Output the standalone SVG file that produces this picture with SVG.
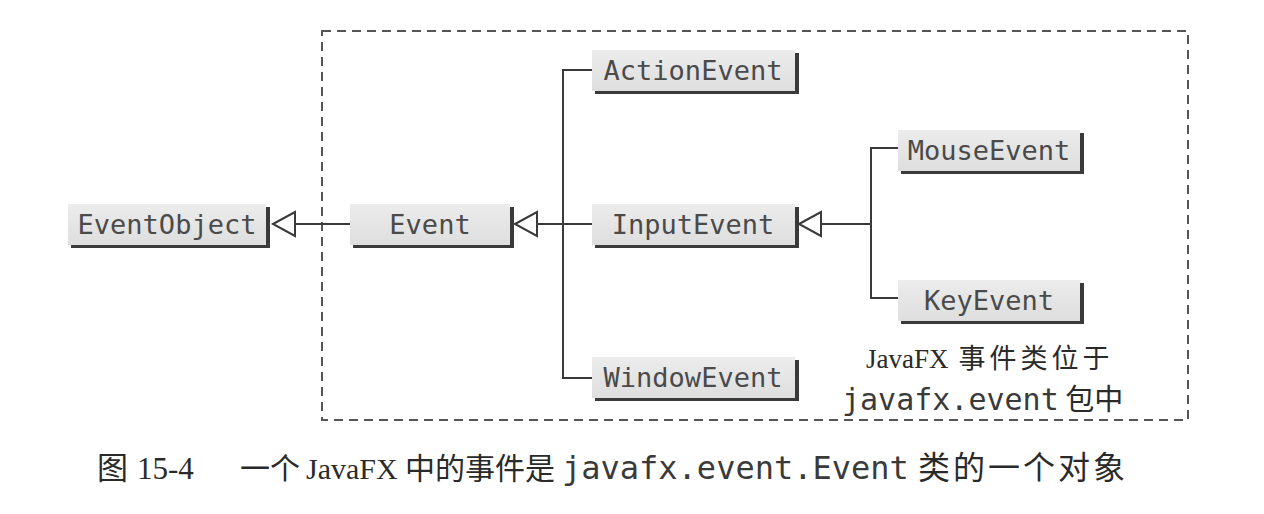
<svg xmlns="http://www.w3.org/2000/svg" width="1264" height="514" viewBox="0 0 1264 514">
<defs>
<linearGradient id="boxfill" x1="0" y1="0" x2="0" y2="1">
<stop offset="0" stop-color="#ececec"/>
<stop offset="1" stop-color="#dedede"/>
</linearGradient>
</defs>
<style>
.box{fill:url(#boxfill);}
.shadow{fill:#3a3a3a;}
.lbl{font-family:"DejaVu Sans Mono","Liberation Mono",monospace;font-size:27px;fill:#4a4a4a;text-anchor:middle;}
.ln{stroke:#3a3a3a;stroke-width:2;fill:none;}
.tri{stroke:#3a3a3a;stroke-width:2;fill:#ffffff;}
.dash{stroke:#555;stroke-width:2;fill:none;stroke-dasharray:9 6;}
.serif{font-family:"Liberation Serif","DejaVu Serif",serif;}
.cjk{font-family:"Noto Sans CJK SC",sans-serif;}
.mono{font-family:"DejaVu Sans Mono","Liberation Mono",monospace;}
</style>
<rect width="1264" height="514" fill="#ffffff"/>
<rect class="dash" x="322" y="31" width="866" height="389"/>
<g id="connectors">
<line class="ln" x1="295" y1="224" x2="350" y2="224"/>
<polygon class="tri" points="273,224 295,212 295,236"/>
<line class="ln" x1="537" y1="224" x2="592" y2="224"/>
<polygon class="tri" points="515,224 537,212 537,236"/>
<polyline class="ln" points="592,70 563,70 563,378 592,378"/>
<line class="ln" x1="821" y1="224" x2="871" y2="224"/>
<polygon class="tri" points="799,224 821,212 821,236"/>
<polyline class="ln" points="898,148 871,148 871,298 898,298"/>
</g>
<g id="EventObject">
<rect class="shadow" x="71" y="207" width="199" height="41"/>
<rect class="box" x="68" y="204" width="198" height="41"/>
<text class="lbl" x="167" y="234">EventObject</text>
</g>
<g id="Event">
<rect class="shadow" x="353" y="207" width="161" height="41"/>
<rect class="box" x="350" y="204" width="160" height="41"/>
<text class="lbl" x="430" y="234">Event</text>
</g>
<g id="ActionEvent">
<rect class="shadow" x="595" y="53" width="204" height="41"/>
<rect class="box" x="592" y="50" width="203" height="41"/>
<text class="lbl" x="693" y="80">ActionEvent</text>
</g>
<g id="InputEvent">
<rect class="shadow" x="595" y="207" width="204" height="41"/>
<rect class="box" x="592" y="204" width="203" height="41"/>
<text class="lbl" x="693" y="234">InputEvent</text>
</g>
<g id="WindowEvent">
<rect class="shadow" x="595" y="360" width="204" height="41"/>
<rect class="box" x="592" y="357" width="203" height="41"/>
<text class="lbl" x="693" y="387">WindowEvent</text>
</g>
<g id="MouseEvent">
<rect class="shadow" x="901" y="133" width="183" height="41"/>
<rect class="box" x="898" y="130" width="182" height="41"/>
<text class="lbl" x="989" y="160">MouseEvent</text>
</g>
<g id="KeyEvent">
<rect class="shadow" x="901" y="283" width="183" height="41"/>
<rect class="box" x="898" y="280" width="182" height="41"/>
<text class="lbl" x="989" y="310">KeyEvent</text>
</g>
<g id="note" fill="#2a2a2a">
<text x="866" y="368"><tspan class="serif" font-size="27">JavaFX</tspan><tspan class="cjk" font-size="27" letter-spacing="4"> 事件类位于</tspan></text>
<text x="842" y="410"><tspan class="mono" font-size="30" fill="#3a3a3a">javafx.event</tspan><tspan class="cjk" font-size="29"> 包中</tspan></text>
</g>
<g id="caption" fill="#2a2a2a">
<text y="479"><tspan class="cjk" x="97" font-size="31">图</tspan><tspan class="serif" x="137" font-size="31">15-4</tspan><tspan class="cjk" x="240" font-size="30">一个</tspan><tspan class="serif" x="306" font-size="30">JavaFX</tspan><tspan class="cjk" x="405" font-size="30">中的事件是</tspan><tspan class="mono" x="562" font-size="32" fill="#3a3a3a">javafx.event.Event</tspan><tspan class="cjk" x="918" font-size="32" letter-spacing="3">类的一个对象</tspan></text>
</g>
</svg>
